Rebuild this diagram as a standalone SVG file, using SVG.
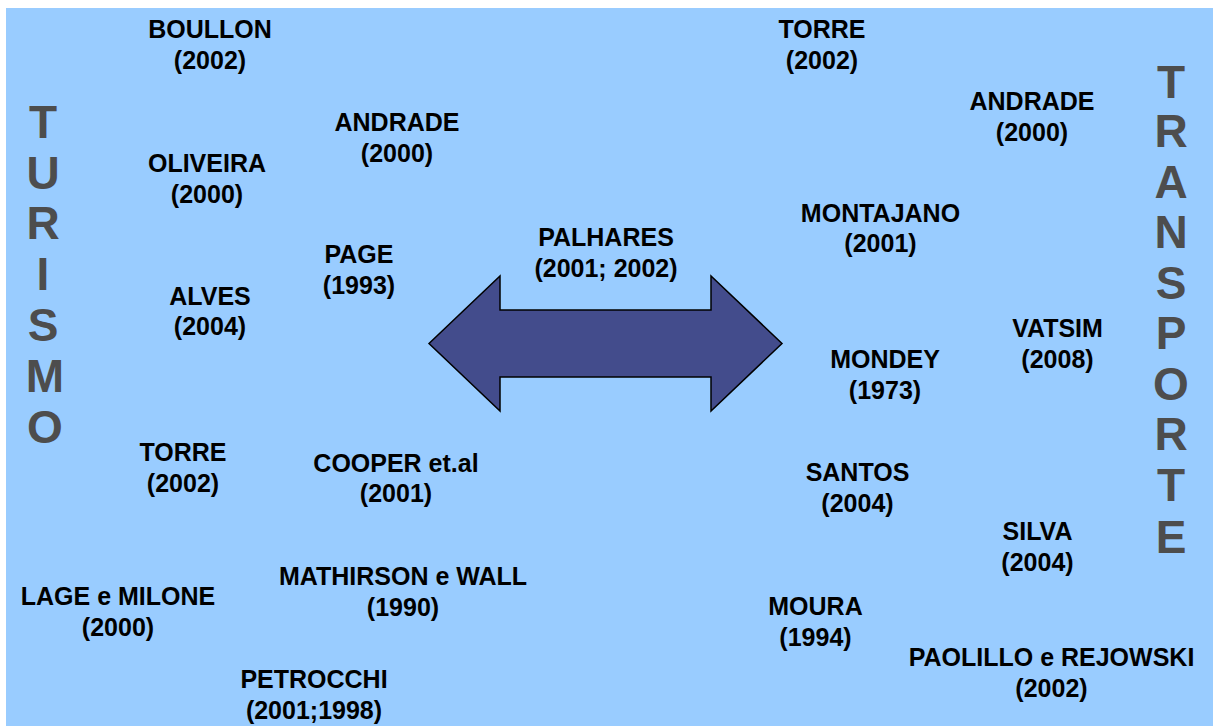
<svg xmlns="http://www.w3.org/2000/svg" width="1213" height="726" viewBox="0 0 1213 726">
<style>
.bg{fill:#99CCFF}
.n{font-family:"Liberation Sans",Arial,sans-serif;font-weight:bold;font-size:25px;fill:#000;text-anchor:middle}
.big{font-family:"Liberation Sans",Arial,sans-serif;font-weight:bold;font-size:46px;fill:#4D4D4D;text-anchor:middle}
.arr{fill:#434C8C;stroke:#000;stroke-width:1.5;stroke-linejoin:miter}
</style>
<rect width="1213" height="726" fill="#FFFFFF"/>
<rect class="bg" x="6" y="8" width="1207" height="718"/>

<g id="turismo">
<text class="big" x="43" y="138">T</text>
<text class="big" x="43" y="189">U</text>
<text class="big" x="43" y="239">R</text>
<text class="big" x="43" y="290">I</text>
<text class="big" x="43" y="341">S</text>
<text class="big" x="45" y="392">M</text>
<text class="big" x="45" y="443">O</text>
</g>
<g id="transporte">
<text class="big" x="1171" y="98">T</text>
<text class="big" x="1171" y="147">R</text>
<text class="big" x="1171" y="198">A</text>
<text class="big" x="1171" y="248">N</text>
<text class="big" x="1171" y="299">S</text>
<text class="big" x="1171" y="349">P</text>
<text class="big" x="1171" y="400">O</text>
<text class="big" x="1171" y="450">R</text>
<text class="big" x="1171" y="501">T</text>
<text class="big" x="1171" y="553">E</text>
</g>

<g id="connectors">
<polygon class="arr" points="429,343.5 500,276 500,310 711,310 711,276 782,343.5 711,411 711,377 500,377 500,411"/>
</g>

<g id="boullon"><text class="n" x="210" y="37.5">BOULLON</text><text class="n" x="210" y="68.5">(2002)</text></g>
<g id="andrade-l"><text class="n" x="397" y="131">ANDRADE</text><text class="n" x="397" y="162">(2000)</text></g>
<g id="oliveira"><text class="n" x="207" y="171.5">OLIVEIRA</text><text class="n" x="207" y="202.5">(2000)</text></g>
<g id="page"><text class="n" x="359" y="262.5">PAGE</text><text class="n" x="359" y="293.5">(1993)</text></g>
<g id="alves"><text class="n" x="210" y="304.5">ALVES</text><text class="n" x="210" y="334.5">(2004)</text></g>
<g id="palhares"><text class="n" x="606" y="245.5">PALHARES</text><text class="n" x="606" y="276.5">(2001; 2002)</text></g>
<g id="torre-l"><text class="n" x="183" y="461">TORRE</text><text class="n" x="183" y="491.5">(2002)</text></g>
<g id="cooper"><text class="n" x="396" y="471.5">COOPER et.al</text><text class="n" x="396" y="502">(2001)</text></g>
<g id="mathirson"><text class="n" x="403" y="585">MATHIRSON e WALL</text><text class="n" x="403" y="615.5">(1990)</text></g>
<g id="lage"><text class="n" x="118" y="605">LAGE e MILONE</text><text class="n" x="118" y="636">(2000)</text></g>
<g id="petrocchi"><text class="n" x="314" y="688">PETROCCHI</text><text class="n" x="314" y="718.5">(2001;1998)</text></g>

<g id="torre-r"><text class="n" x="822" y="38">TORRE</text><text class="n" x="822" y="68.5">(2002)</text></g>
<g id="andrade-r"><text class="n" x="1032" y="110">ANDRADE</text><text class="n" x="1032" y="140.5">(2000)</text></g>
<g id="montajano"><text class="n" x="880.5" y="221.5">MONTAJANO</text><text class="n" x="880.5" y="252">(2001)</text></g>
<g id="vatsim"><text class="n" x="1057.5" y="336.5">VATSIM</text><text class="n" x="1057.5" y="368">(2008)</text></g>
<g id="mondey"><text class="n" x="885" y="367.5">MONDEY</text><text class="n" x="885" y="398.5">(1973)</text></g>
<g id="santos"><text class="n" x="857.5" y="481">SANTOS</text><text class="n" x="857.5" y="511.5">(2004)</text></g>
<g id="silva"><text class="n" x="1037.5" y="540">SILVA</text><text class="n" x="1037.5" y="570.5">(2004)</text></g>
<g id="moura"><text class="n" x="815.5" y="615">MOURA</text><text class="n" x="815.5" y="645.5">(1994)</text></g>
<g id="paolillo"><text class="n" x="1051.5" y="666">PAOLILLO e REJOWSKI</text><text class="n" x="1051.5" y="697">(2002)</text></g>
</svg>
